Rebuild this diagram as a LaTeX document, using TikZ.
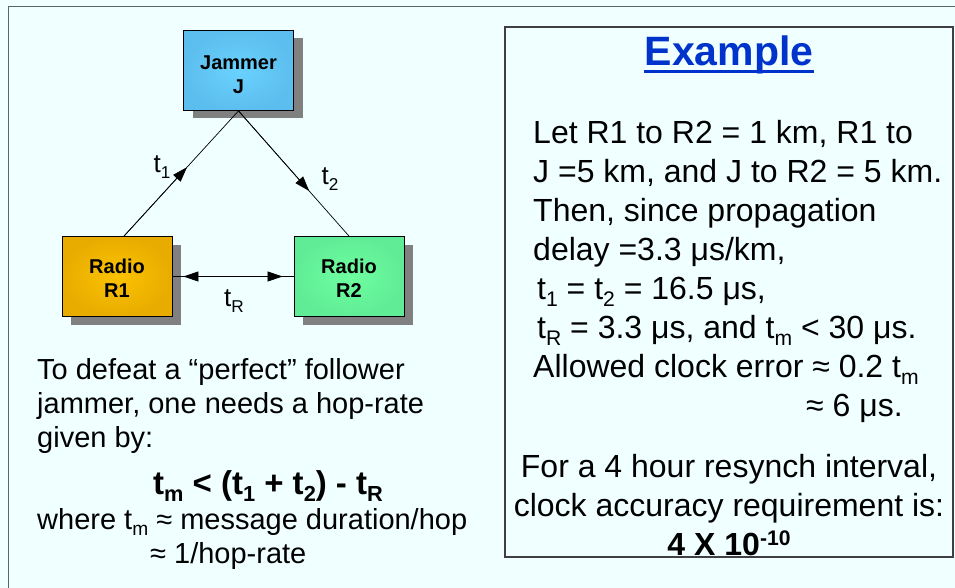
\documentclass[tikz,border=0pt]{standalone}
\usepackage{fontspec}
\setmainfont{Liberation Sans}
\usetikzlibrary{calc}
\usetikzlibrary{arrows.meta}
\usetikzlibrary{shadows}
\definecolor{panel}{RGB}{240, 255, 255}
\definecolor{framegray}{RGB}{90, 100, 100}
\definecolor{linkblue}{RGB}{0, 51, 204}
\definecolor{jamblue}{RGB}{106, 210, 255}
\definecolor{jamedge}{RGB}{92, 190, 238}
\definecolor{amber}{RGB}{252, 194, 0}
\definecolor{amberedge}{RGB}{232, 172, 0}
\definecolor{mint}{RGB}{110, 255, 160}
\definecolor{mintedge}{RGB}{96, 236, 150}

\newcommand{\dn}[1]{\raisebox{-0.4ex}{\scalebox{0.66}{#1}}}
\newcommand{\up}[1]{\raisebox{0.6ex}{\scalebox{0.66}{#1}}}

\tikzset{
  unitbox/.style={draw=black, line width=0.8pt, minimum width=110pt, minimum height=80pt,
    inner sep=0pt, align=center, font=\fontsize{20}{24}\selectfont\bfseries, shading=radial,
    drop shadow={shadow xshift=9pt, shadow yshift=-8pt, fill=gray, opacity=1}},
  link/.style={line width=0.7pt},
  headtip/.style={-{Triangle[length=15pt,width=10pt]}},
  bothtips/.style={{Triangle[length=15pt,width=10pt]}-{Triangle[length=15pt,width=10pt]}},
  tlabel/.style={font=\fontsize{26}{30}\selectfont},
  lefttext/.style={align=left, inner sep=0pt, font=\fontsize{29}{34}\selectfont},
  bodytext/.style={inner sep=0pt, font=\fontsize{32}{39}\selectfont}
}

\begin{document}
\begin{tikzpicture}[x=1pt, y=-1pt]
  \useasboundingbox (0,0) rectangle (955,588);
  \fill[panel] (0,0) rectangle (955,588);
  % slide frame
  \draw[framegray, line width=1.6pt] (8.5,588) -- (8.5,6.5) -- (955,6.5);

  % Jammer and radios
  \node[unitbox, inner color=jamblue, outer color=jamedge] (jam) at (238.5,70.5) {\rule{0pt}{22pt}Jammer\\J};
  \node[unitbox, inner color=amber, outer color=amberedge] (r1) at (117,276.5) {\rule{0pt}{18pt}Radio\\R1};
  \node[unitbox, inner color=mint, outer color=mintedge] (r2) at (349,276.5) {\rule{0pt}{18pt}Radio\\R2};
  \coordinate (r1top) at ([xshift=7pt]r1.north);

  % Paths
  \draw[link] (r1top) -- (jam.south);
  \draw[link, headtip] (r1top) -- ($(r1top)!0.55!(jam.south)$);
  \draw[link] (jam.south) -- (r2.north);
  \draw[link, headtip] (jam.south) -- ($(jam.south)!0.64!(r2.north)$);
  \draw[link] (r1.east) -- (r2.west);
  \draw[link, bothtips, shorten >=11pt, shorten <=11pt] (r1.east) -- (r2.west);
  \node[tlabel] (lab1) at (162,167) {t\dn{1}};
  \node[tlabel] (lab2) at (330,179) {t\dn{2}};
  \node[tlabel] (labR) at (234,301) {t\dn{R}};

  % Left text
  \node[lefttext, anchor=north west] (defeat) at (37,358) {To defeat a “perfect” follower\\jammer, one needs a hop-rate\\given by:};
  \node[inner sep=0pt, font=\fontsize{33}{38}\selectfont\bfseries] (rule) at (268,486) {t\dn{m} < (t\dn{1} + t\dn{2}) - t\dn{R}};
  \node[lefttext, anchor=north west] (where) at (37,508) {where t\dn{m} ≈ message duration/hop\\\hspace*{113pt}≈ 1/hop-rate};

  % Example box
  \draw[black!75, line width=1.3pt] (505,27) rectangle (953,557);
  \node[inner sep=0pt, text=linkblue, font=\fontsize{41}{46}\selectfont\bfseries] (exhead) at (729,55) {Example};
  \draw[linkblue, line width=3pt] ([yshift=-5.5pt]exhead.base west) -- ([yshift=-5.5pt]exhead.base east);
  \node[bodytext, align=left, anchor=north west] (given) at (533,120) {Let R1 to R2 = 1 km, R1 to\\J =5 km, and J to R2 = 5 km.\\Then, since propagation\\delay =3.3 μs/km,\\\hspace*{4pt}t\dn{1} = t\dn{2} = 16.5 μs,\\\hspace*{4pt}t\dn{R} = 3.3 μs, and t\dn{m} < 30 μs.\\Allowed clock error ≈ 0.2 t\dn{m}\\\hspace*{273pt}≈ 6 μs.};
  \node[bodytext, align=center] (resynch) at (729,505) {For a 4 hour resynch interval,\\clock accuracy requirement is:\\\textbf{4 X 10\up{-10}}};
\end{tikzpicture}
\end{document}
